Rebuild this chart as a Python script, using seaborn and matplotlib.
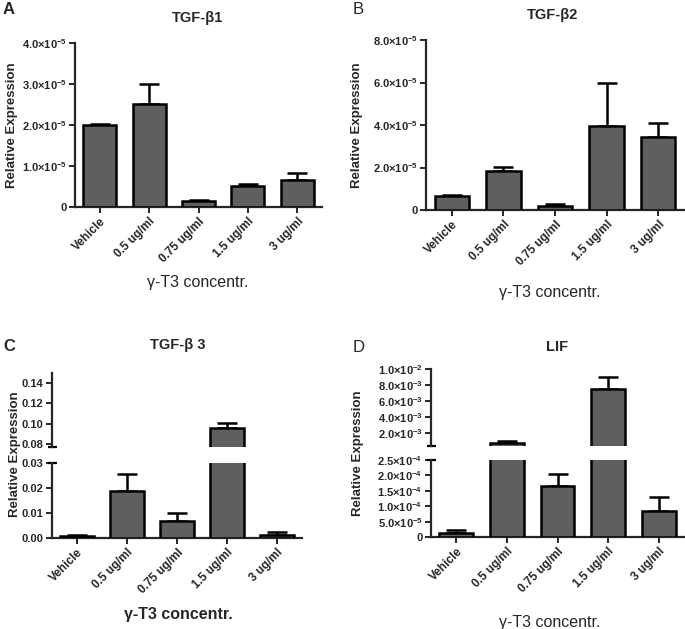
import numpy as np
import matplotlib
matplotlib.use("Agg")
import matplotlib.pyplot as plt
import seaborn as sns

# data
doses = ["Vehicle", "0.5 ug/ml", "0.75 ug/ml", "1.5 ug/ml", "3 ug/ml"]

tgfb1_mean = [2.0e-5, 2.5e-5, 0.14e-5, 0.51e-5, 0.67e-5]
tgfb1_sem = [0.02e-5, 0.5e-5, 0.02e-5, 0.05e-5, 0.15e-5]

tgfb2_mean = [0.67e-5, 1.83e-5, 0.2e-5, 3.95e-5, 3.45e-5]
tgfb2_sem = [0.03e-5, 0.21e-5, 0.08e-5, 2.05e-5, 0.63e-5]

tgfb3_mean = [0.0008, 0.019, 0.007, 0.0957, 0.0013]
tgfb3_sem = [0.0003, 0.0065, 0.003, 0.005, 0.001]

lif_mean = [1.3e-5, 7.0e-4, 1.64e-4, 7.47e-3, 0.85e-4]
lif_sem = [1.1e-5, 3.0e-4, 0.41e-4, 1.48e-3, 0.46e-4]

sns.set_style("ticks")
plt.rcParams["font.family"] = ["Liberation Sans", "DejaVu Sans"]
plt.rcParams["mathtext.fontset"] = "custom"
plt.rcParams["mathtext.rm"] = "Liberation Sans:bold"
plt.rcParams["mathtext.bf"] = "Liberation Sans:bold"
plt.rcParams["mathtext.default"] = "rm"

BAR = "#5f5f5f"
W, H = 685, 629
fig = plt.figure(figsize=(W / 100, H / 100), dpi=100)


def add_ax(l, t, r, b):
    return fig.add_axes([l / W, 1 - b / H, (r - l) / W, (b - t) / H])


def sci(v, pos=None):
    if v == 0:
        return "0"
    e = int(np.floor(np.log10(abs(v)) + 1e-9))
    m = v / 10 ** e
    return f"${m:.1f}×10^{{{e}}}$"


def draw_bars(ax, mean, sem, ymin=0.0):
    sns.barplot(x=doses, y=mean, color=BAR, saturation=1, width=0.67,
                edgecolor="black", linewidth=1.8, ax=ax, zorder=3)
    # only the upper half of each error bar, and only where the bar shows
    idx = [i for i, m in enumerate(mean) if m > ymin]
    ax.errorbar(idx, [mean[i] for i in idx],
                yerr=[np.zeros(len(idx)), [sem[i] for i in idx]],
                fmt="none", ecolor="black", elinewidth=1.8, capsize=7,
                capthick=1.8, zorder=2)
    ax.set_xlim(-0.5, len(mean) - 0.5)
    ax.set_ylabel("")
    ax.set_xlabel("")
    for s in ["top", "right"]:
        ax.spines[s].set_visible(False)
    for s in ["left", "bottom"]:
        ax.spines[s].set_linewidth(1.6)
    ax.tick_params(width=1.4, length=4, direction="out", pad=2)
    ax.tick_params(axis="y", labelsize=8)


def style_xticks(ax):
    ax.set_xticks(range(len(doses)))
    ax.set_xticklabels(doses, rotation=45, ha="right", rotation_mode="anchor",
                       fontsize=8.5, fontweight="bold")


def bold_ylabels(ax):
    for lab in ax.get_yticklabels():
        lab.set_fontweight("bold")


def break_cap(ax, where):
    wpx = ax.get_position().width * W
    d = 4.5 / wpx
    y = 0 if where == "bottom" else 1
    ax.plot([-d, d], [y, y], color="black", lw=1.6, transform=ax.transAxes,
            clip_on=False, solid_capstyle="butt")


def ftext(x, y, s, **kw):
    fig.text(x / W, 1 - y / H, s, ha="center", va="center", **kw)


# ---- A : TGF-b1
axA = add_ax(75, 43, 322, 207)
draw_bars(axA, tgfb1_mean, tgfb1_sem)
axA.set_ylim(0, 4e-5)
axA.set_yticks([0, 1e-5, 2e-5, 3e-5, 4e-5])
axA.yaxis.set_major_formatter(plt.FuncFormatter(sci))
style_xticks(axA)
bold_ylabels(axA)

# ---- B : TGF-b2
axB = add_ax(426, 40, 684, 210)
draw_bars(axB, tgfb2_mean, tgfb2_sem)
axB.set_ylim(0, 8e-5)
axB.set_yticks([0, 2e-5, 4e-5, 6e-5, 8e-5])
axB.yaxis.set_major_formatter(plt.FuncFormatter(sci))
style_xticks(axB)
bold_ylabels(axB)

# ---- C : TGF-b3 (broken axis)
c_lo, c_hi = (0, 0.03), (0.077, 0.15)
axC1 = add_ax(52, 373, 302, 447)
axC2 = add_ax(52, 463, 302, 538)
draw_bars(axC1, tgfb3_mean, tgfb3_sem, ymin=c_hi[0])
draw_bars(axC2, tgfb3_mean, tgfb3_sem)
axC1.set_ylim(*c_hi)
axC1.set_yticks([0.08, 0.10, 0.12, 0.14])
axC1.yaxis.set_major_formatter(plt.FuncFormatter(lambda v, p: f"{v:.2f}"))
axC1.spines["bottom"].set_visible(False)
axC1.set_xticks([])
axC2.set_ylim(*c_lo)
axC2.set_yticks([0, 0.01, 0.02, 0.03])
axC2.yaxis.set_major_formatter(plt.FuncFormatter(lambda v, p: f"{v:.2f}"))
style_xticks(axC2)
for ax in (axC1, axC2):
    bold_ylabels(ax)
break_cap(axC1, "bottom")
break_cap(axC2, "top")

# ---- D : LIF (broken axis)
d_lo, d_hi = (0, 2.5e-4), (3.75e-4, 1.0e-2)
axD1 = add_ax(431, 369, 684, 446)
axD2 = add_ax(431, 460, 684, 537)
draw_bars(axD1, lif_mean, lif_sem, ymin=d_hi[0])
draw_bars(axD2, lif_mean, lif_sem)
axD1.set_ylim(*d_hi)
axD1.set_yticks([2e-3, 4e-3, 6e-3, 8e-3, 1e-2])
axD1.yaxis.set_major_formatter(plt.FuncFormatter(sci))
axD1.spines["bottom"].set_visible(False)
axD1.set_xticks([])
axD2.set_ylim(*d_lo)
axD2.set_yticks([0, 5e-5, 1e-4, 1.5e-4, 2e-4, 2.5e-4])
axD2.yaxis.set_major_formatter(plt.FuncFormatter(sci))
style_xticks(axD2)
for ax in (axD1, axD2):
    bold_ylabels(ax)
break_cap(axD1, "bottom")
break_cap(axD2, "top")

# ---- titles, letters, axis labels
ftext(9, 9, "A", fontsize=12, fontweight="bold")
ftext(358, 9, "B", fontsize=12)
ftext(9, 346, "C", fontsize=12, fontweight="bold")
ftext(359, 348, "D", fontsize=12)

ftext(197, 18, "TGF-β1", fontsize=10.5, fontweight="bold")
ftext(553, 15, "TGF-β2", fontsize=10.5, fontweight="bold")
ftext(178, 345, "TGF-β 3", fontsize=10.5, fontweight="bold")
ftext(557, 347, "LIF", fontsize=10.5, fontweight="bold")

ylab = "Relative Expression"
ftext(12, 125, ylab, fontsize=9.5, fontweight="bold", rotation=90)
ftext(357, 125, ylab, fontsize=9.5, fontweight="bold", rotation=90)
ftext(15, 454, ylab, fontsize=9.5, fontweight="bold", rotation=90)
ftext(358, 453, ylab, fontsize=9.5, fontweight="bold", rotation=90)

ftext(198, 283, "γ-T3 concentr.", fontsize=11.5)
ftext(550, 293, "γ-T3 concentr.", fontsize=11.5)
ftext(178, 614, "γ-T3 concentr.", fontsize=11.5, fontweight="bold")
ftext(550, 622, "γ-T3 concentr.", fontsize=11.5)

fig.savefig("out.png", dpi=100)
